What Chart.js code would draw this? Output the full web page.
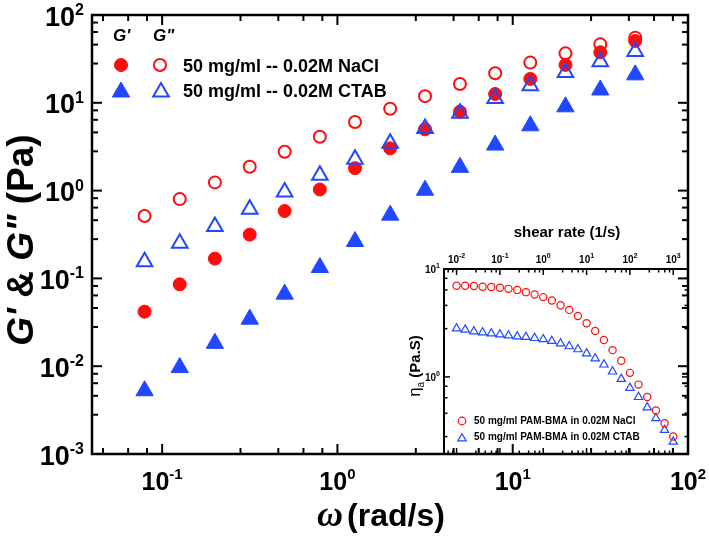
<!DOCTYPE html>
<html><head><meta charset="utf-8">
<script src="https://cdn.jsdelivr.net/npm/chart.js@4.4.1/dist/chart.umd.min.js"></script>
<style>
html,body{margin:0;padding:0;background:#fff;}
#wrap{position:relative;width:709px;height:542px;background:#fff;}
#wrap canvas{position:absolute;left:0;top:0;}
</style></head><body>
<div id="wrap"><canvas id="main" width="709" height="542"></canvas><canvas id="inset" width="709" height="542"></canvas></div>
<script>
// ---------- data: main plot (angular frequency sweep) ----------
const omega      = [0.0794, 0.126, 0.2, 0.316, 0.5, 0.794, 1.26, 2, 3.16, 5, 7.94, 12.6, 20, 31.6, 50];
const gPrimeNaCl  = [0.0418, 0.0856, 0.168, 0.315, 0.586, 1.03, 1.80, 3.03, 4.99, 7.93, 12.6, 18.7, 27.0, 37.6, 50.6];
const gDPrimeNaCl = [0.514, 0.80, 1.24, 1.87, 2.77, 4.11, 6.04, 8.57, 11.9, 16.4, 21.7, 28.7, 36.6, 46.3, 55.2];
const gPrimeCTAB  = [0.00525, 0.00965, 0.0182, 0.0343, 0.0662, 0.133, 0.263, 0.525, 1.01, 1.84, 3.30, 5.47, 9.0, 14.0, 20.8];
const gDPrimeCTAB = [0.155, 0.252, 0.391, 0.615, 0.965, 1.50, 2.28, 3.47, 5.10, 7.62, 11.2, 15.6, 22.1, 29.3, 38.4];

// ---------- data: inset (steady shear viscosity) ----------
const shearRate = [0.01, 0.0158, 0.0251, 0.0398, 0.0631, 0.1, 0.158, 0.251, 0.398, 0.631, 1, 1.58, 2.51, 3.98, 6.31, 10, 15.8, 25.1, 39.8, 63.1, 100, 158, 251, 398, 631, 1000];
const etaNaCl = [7.0, 7.0, 6.95, 6.85, 6.8, 6.7, 6.55, 6.4, 6.1, 5.8, 5.49, 5.1, 4.62, 4.18, 3.67, 3.14, 2.66, 2.2, 1.77, 1.41, 1.09, 0.849, 0.651, 0.489, 0.372, 0.28];
const etaCTAB = [2.81, 2.74, 2.64, 2.58, 2.53, 2.47, 2.42, 2.37, 2.34, 2.29, 2.23, 2.15, 2.04, 1.92, 1.80, 1.65, 1.48, 1.30, 1.12, 0.957, 0.791, 0.650, 0.521, 0.414, 0.322, 0.251];

// ---------- tick labels ----------
const mainXTickValues = [0.1, 1, 10, 100];
const mainXTickExps   = ['-1', '0', '1', '2'];
const mainYTickValues = [0.001, 0.01, 0.1, 1, 10, 100];
const mainYTickExps   = ['-3', '-2', '-1', '0', '1', '2'];
const insetXTickValues = [0.01, 0.1, 1, 10, 100, 1000];
const insetXTickExps   = ['-2', '-1', '0', '1', '2', '3'];
const insetYTickValues = [1, 10];
const insetYTickExps   = ['0', '1'];
const minorSteps = [2.8, 4.6, 6.4, 8.2];

// ---------- labels ----------
const legendNaCl = '50 mg/ml -- 0.02M NaCl';
const legendCTAB = '50 mg/ml -- 0.02M CTAB';
const insetLegendNaCl = '50 mg/ml PAM-BMA in 0.02M NaCl';
const insetLegendCTAB = '50 mg/ml PAM-BMA in 0.02M CTAB';

const RED = '#ff0d0d';
const BLUE = '#1f48ff';
const FONT = '"Liberation Sans", Arial, sans-serif';

function pts(xs, ys) { return xs.map((x, i) => ({x: x, y: ys[i]})); }

function drawPow(ctx, x, y, exp, baseSize, supSize, supRise, align) {
  ctx.font = 'bold ' + baseSize + 'px ' + FONT;
  const wb = ctx.measureText('10').width;
  ctx.font = 'bold ' + supSize + 'px ' + FONT;
  const ws = ctx.measureText(exp).width;
  const total = wb + ws;
  let x0 = align === 'center' ? x - total / 2 : (align === 'right' ? x - total : x);
  ctx.textAlign = 'left';
  ctx.textBaseline = 'alphabetic';
  ctx.font = 'bold ' + baseSize + 'px ' + FONT;
  ctx.fillText('10', x0, y);
  ctx.font = 'bold ' + supSize + 'px ' + FONT;
  ctx.fillText(exp, x0 + wb, y - supRise);
}

function logTicks(min, max) {
  const out = [];
  for (let e = Math.floor(Math.log10(min)) - 1; e <= Math.ceil(Math.log10(max)); e++) {
    const d = Math.pow(10, e);
    out.push({v: d, major: true});
    minorSteps.forEach(m => out.push({v: d * m, major: false}));
  }
  return out.filter(t => t.v > min * 1.001 && t.v < max * 0.999);
}

function seg(ctx, x1, y1, x2, y2) { ctx.beginPath(); ctx.moveTo(x1, y1); ctx.lineTo(x2, y2); ctx.stroke(); }

function marker(ctx, style, x, y, r, filled, color, lw) {
  ctx.save();
  ctx.fillStyle = color; ctx.strokeStyle = color; ctx.lineWidth = lw;
  ctx.beginPath();
  if (style === 'circle') {
    ctx.arc(x, y, r, 0, Math.PI * 2);
  } else {
    let rad = 0;
    ctx.moveTo(x + Math.sin(rad) * r, y - Math.cos(rad) * r);
    rad += 2 * Math.PI / 3;
    ctx.lineTo(x + Math.sin(rad) * r, y - Math.cos(rad) * r);
    rad += 2 * Math.PI / 3;
    ctx.lineTo(x + Math.sin(rad) * r, y - Math.cos(rad) * r);
    ctx.closePath();
  }
  if (filled) ctx.fill();
  ctx.stroke();
  ctx.restore();
}

function drawAxesFrame(chart, o) {
  const ctx = chart.ctx, a = chart.chartArea, xs = chart.scales.x, ys = chart.scales.y;
  ctx.save();
  ctx.strokeStyle = '#000';
  ctx.lineCap = 'butt';
  ctx.lineWidth = o.tickWidth;
  logTicks(xs.min, xs.max).forEach(t => {
    const px = xs.getPixelForValue(t.v), L = t.major ? o.major : o.minor;
    seg(ctx, px, a.bottom, px, a.bottom - L);
    seg(ctx, px, a.top, px, a.top + L);
  });
  logTicks(ys.min, ys.max).forEach(t => {
    const py = ys.getPixelForValue(t.v), L = t.major ? o.major : o.minor;
    seg(ctx, a.left, py, a.left + L, py);
    seg(ctx, a.right, py, a.right - L, py);
  });
  ctx.lineWidth = o.frame;
  ctx.strokeRect(a.left, a.top, a.right - a.left, a.bottom - a.top);
  ctx.restore();
}

// ---------------- main chart ----------------
const mainPlugin = {
  id: 'mainDecor',
  afterDraw(chart) {
    const ctx = chart.ctx, a = chart.chartArea, xs = chart.scales.x, ys = chart.scales.y;
    drawAxesFrame(chart, {tickWidth: 2, major: 10, minor: 6, frame: 2.5});
    ctx.save();
    ctx.fillStyle = '#000';
    mainXTickValues.forEach((v, i) => {
      drawPow(ctx, xs.getPixelForValue(v), 490, mainXTickExps[i], 25, 15, 11, 'center');
    });
    mainYTickValues.forEach((v, i) => {
      const py = ys.getPixelForValue(v);
      drawPow(ctx, 84, py + 10.5, mainYTickExps[i], 27, 16, 10.5, 'right');
    });
    // x title
    ctx.textBaseline = 'alphabetic';
    ctx.textAlign = 'left';
    ctx.font = 'italic bold 36px "Liberation Serif", "Times New Roman", serif';
    const wo = ctx.measureText('ω').width;
    ctx.font = 'bold 32px ' + FONT;
    const wr = ctx.measureText('(rad/s)').width;
    const x0 = 381 - (wo + 4 + wr) / 2;
    ctx.font = 'italic bold 36px "Liberation Serif", "Times New Roman", serif';
    ctx.fillText('ω', x0, 526);
    ctx.font = 'bold 32px ' + FONT;
    ctx.fillText('(rad/s)', x0 + wo + 4, 526);
    // y title
    ctx.save();
    ctx.translate(33, 240);
    ctx.rotate(-Math.PI / 2);
    const parts = [['G\'', true], [' & ', false], ['G"', true], [' (Pa)', false]];
    let tot = 0;
    parts.forEach(p => { ctx.font = (p[1] ? 'italic ' : '') + 'bold 37px ' + FONT; tot += ctx.measureText(p[0]).width; });
    let cx = -tot / 2;
    parts.forEach(p => { ctx.font = (p[1] ? 'italic ' : '') + 'bold 37px ' + FONT; ctx.fillText(p[0], cx, 0); cx += ctx.measureText(p[0]).width; });
    ctx.restore();
    // legend
    ctx.font = 'italic bold 17px ' + FONT;
    ctx.fillText('G\'', 113, 41);
    ctx.fillText('G"', 153, 41);
    marker(ctx, 'circle', 121, 65, 6.5, true, RED, 1);
    marker(ctx, 'circle', 160, 65, 6, false, RED, 2);
    marker(ctx, 'triangle', 121, 92, 10, true, BLUE, 1);
    marker(ctx, 'triangle', 161, 92, 9, false, BLUE, 2);
    ctx.fillStyle = '#000';
    ctx.font = 'bold 18px ' + FONT;
    ctx.fillText(legendNaCl, 183, 71.5);
    ctx.fillText(legendCTAB, 183, 96.5);
    ctx.restore();
  }
};

new Chart(document.getElementById('main'), {
  type: 'scatter',
  data: {
    datasets: [
      {label: "G' NaCl", data: pts(omega, gPrimeNaCl), order: 4, pointStyle: 'circle', pointRadius: 6.5, borderWidth: 1, backgroundColor: RED, borderColor: RED},
      {label: "G' CTAB", data: pts(omega, gPrimeCTAB), order: 3, pointStyle: 'triangle', pointRadius: 10, borderWidth: 1, backgroundColor: BLUE, borderColor: BLUE},
      {label: 'G" NaCl', data: pts(omega, gDPrimeNaCl), order: 2, pointStyle: 'circle', pointRadius: 6, borderWidth: 2, backgroundColor: 'rgba(0,0,0,0)', borderColor: RED},
      {label: 'G" CTAB', data: pts(omega, gDPrimeCTAB), order: 1, pointStyle: 'triangle', pointRadius: 9, borderWidth: 2, backgroundColor: 'rgba(0,0,0,0)', borderColor: BLUE}
    ]
  },
  options: {
    responsive: false, animation: false,
    layout: {padding: {left: 92, top: 15, right: 21, bottom: 88}},
    plugins: {legend: {display: false}, tooltip: {enabled: false}},
    scales: {
      x: {type: 'logarithmic', min: 0.0398, max: 100, display: false},
      y: {type: 'logarithmic', min: 0.001, max: 100, display: false}
    }
  },
  plugins: [mainPlugin]
});

// ---------------- inset chart ----------------
const insetPlugin = {
  id: 'insetDecor',
  afterDraw(chart) {
    const ctx = chart.ctx, a = chart.chartArea, xs = chart.scales.x, ys = chart.scales.y;
    drawAxesFrame(chart, {tickWidth: 1.5, major: 6, minor: 3.5, frame: 2});
    ctx.save();
    ctx.fillStyle = '#000';
    insetXTickValues.forEach((v, i) => {
      drawPow(ctx, xs.getPixelForValue(v), 263, insetXTickExps[i], 10, 7, 5, 'center');
    });
    insetYTickValues.forEach((v, i) => {
      const py = ys.getPixelForValue(v);
      drawPow(ctx, 440, py + 4, insetYTickExps[i], 10, 7, 5, 'right');
    });
    ctx.textAlign = 'center'; ctx.textBaseline = 'alphabetic';
    ctx.font = 'bold 15px ' + FONT;
    ctx.fillText('shear rate (1/s)', 567, 237);
    // y title
    ctx.save();
    ctx.translate(420, 366);
    ctx.rotate(-Math.PI / 2);
    ctx.textAlign = 'left';
    ctx.font = '17px ' + FONT; const we = ctx.measureText('η').width;
    ctx.font = '10px ' + FONT; const wa = ctx.measureText('a').width;
    ctx.font = 'bold 15px ' + FONT; const wp = ctx.measureText(' (Pa.S)').width;
    let cx = -(we + wa + wp) / 2;
    ctx.font = '17px ' + FONT; ctx.fillText('η', cx, 0); cx += we;
    ctx.font = '10px ' + FONT; ctx.fillText('a', cx, 4); cx += wa;
    ctx.font = 'bold 15px ' + FONT; ctx.fillText(' (Pa.S)', cx, 0);
    ctx.restore();
    // legend
    marker(ctx, 'circle', 462, 421, 3.8, false, RED, 1.2);
    marker(ctx, 'triangle', 462, 438.5, 4.8, false, BLUE, 1.2);
    ctx.fillStyle = '#000';
    ctx.textAlign = 'left'; ctx.textBaseline = 'middle';
    ctx.font = 'bold 10px ' + FONT;
    ctx.fillText(insetLegendNaCl, 474, 421);
    ctx.fillText(insetLegendCTAB, 474, 437.5);
    ctx.restore();
  }
};

new Chart(document.getElementById('inset'), {
  type: 'scatter',
  data: {
    datasets: [
      {label: 'NaCl', data: pts(shearRate, etaNaCl), pointStyle: 'circle', pointRadius: 3.6, borderWidth: 1.2, backgroundColor: 'rgba(0,0,0,0)', borderColor: RED},
      {label: 'CTAB', data: pts(shearRate, etaCTAB), pointStyle: 'triangle', pointRadius: 4.8, borderWidth: 1.2, backgroundColor: 'rgba(0,0,0,0)', borderColor: BLUE}
    ]
  },
  options: {
    responsive: false, animation: false,
    layout: {padding: {left: 444, top: 269, right: 21, bottom: 88}},
    plugins: {legend: {display: false}, tooltip: {enabled: false}},
    scales: {
      x: {type: 'logarithmic', min: 0.00513, max: 2190, display: false},
      y: {type: 'logarithmic', min: 0.193, max: 10, display: false}
    }
  },
  plugins: [insetPlugin]
});
</script>
</body></html>
